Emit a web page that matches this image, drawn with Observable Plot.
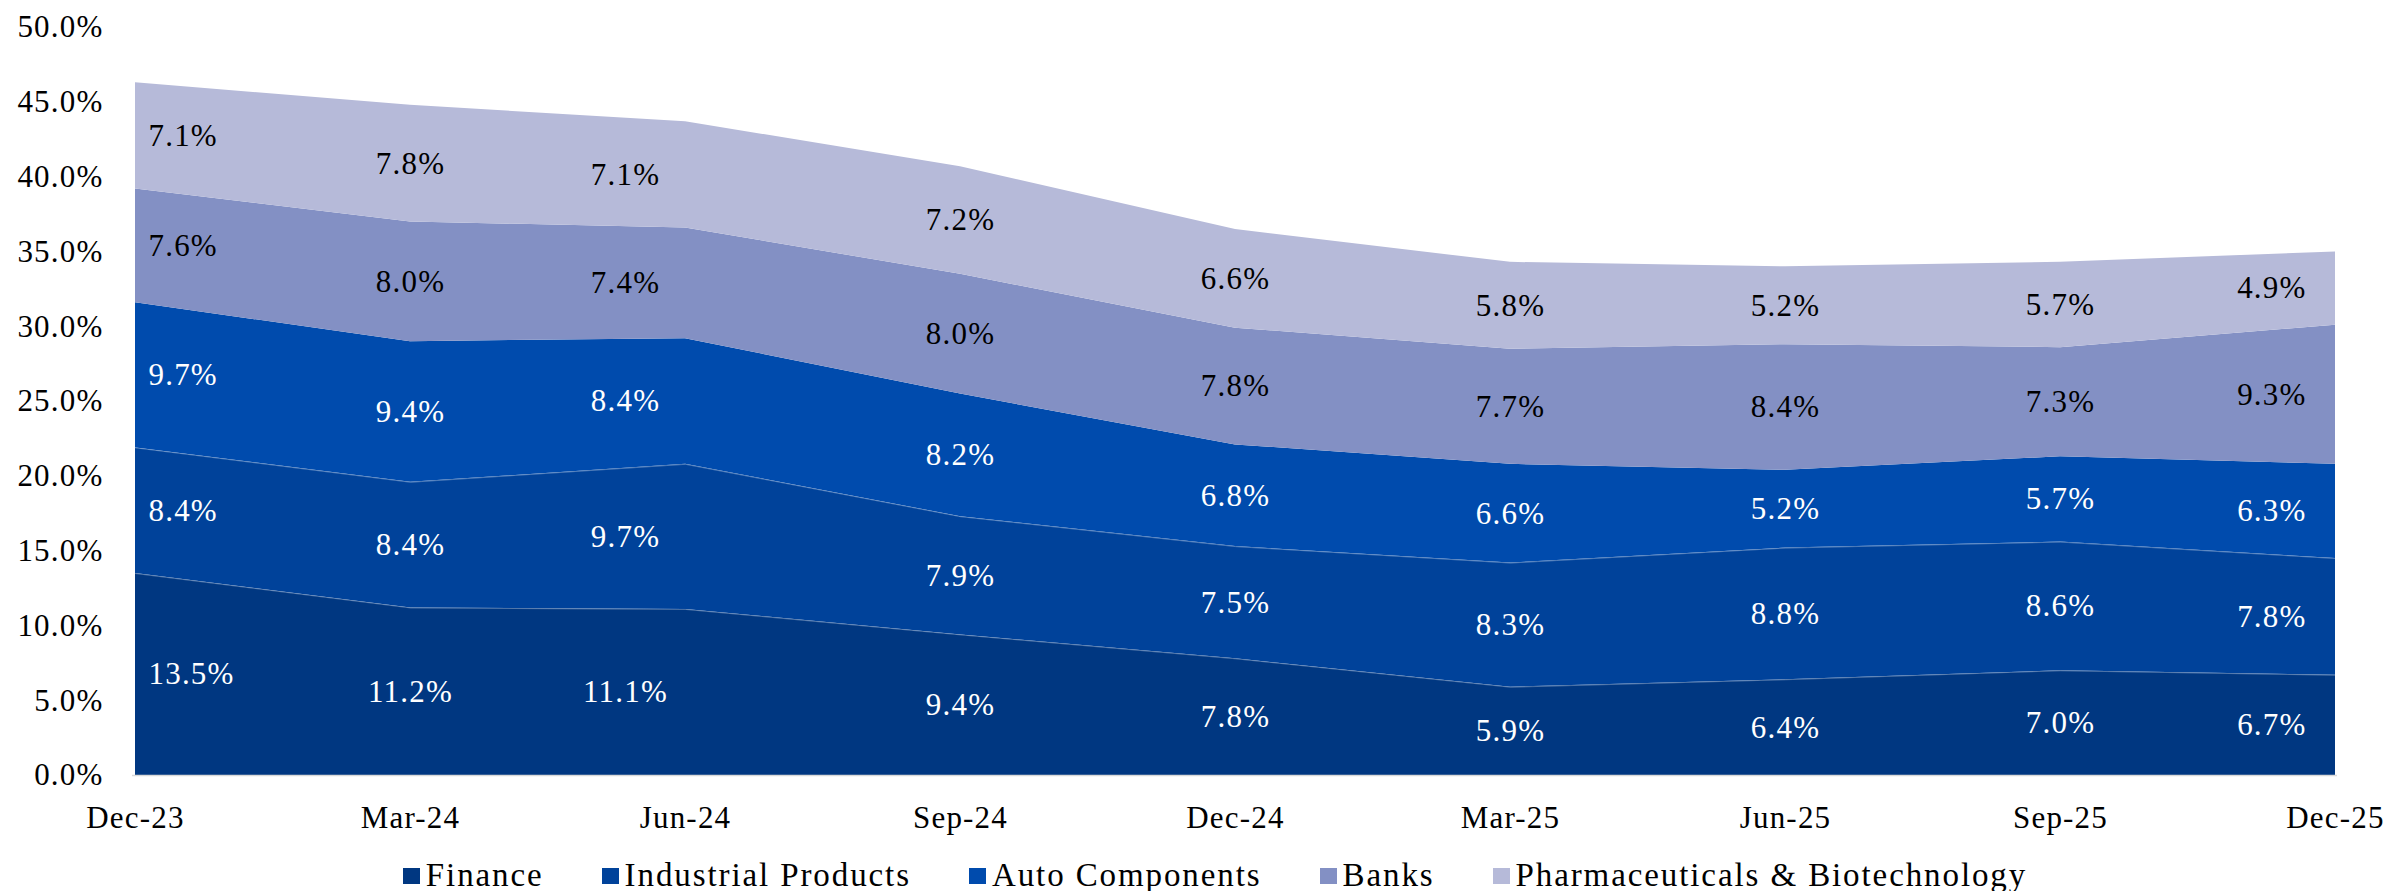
<!DOCTYPE html>
<html>
<head>
<meta charset="utf-8">
<script src="https://cdn.jsdelivr.net/npm/d3@7"></script>
<script src="https://cdn.jsdelivr.net/npm/@observablehq/plot@0.6"></script>
<style>
  html, body { margin: 0; padding: 0; background: #fff; overflow: hidden; }
  #chart svg text { letter-spacing: 1.2px; font-weight: normal; }
  #legend { display: flex; justify-content: center; align-items: center; height: 31px; padding-top: 15px; padding-left: 36px;
    font-family: "Liberation Serif", serif; font-size: 33px; letter-spacing: 1.9px; color: #000; }
  .item { display: flex; align-items: center; margin-right: 58px; line-height: 31px; }
  .item:last-child { margin-right: 0; }
  .sw { width: 17px; height: 16px; margin-right: 6px; }
</style>
</head>
<body>
<div id="chart"></div>
<div id="legend"></div>
<script>
const quarters = ["Dec-23","Mar-24","Jun-24","Sep-24","Dec-24","Mar-25","Jun-25","Sep-25","Dec-25"];
const seriesNames = ["Finance","Industrial Products","Auto Components","Banks","Pharmaceuticals & Biotechnology"];
const finance            = [13.5, 11.2, 11.1, 9.4, 7.8, 5.9, 6.4, 7.0, 6.7];
const industrialProducts = [8.4, 8.4, 9.7, 7.9, 7.5, 8.3, 8.8, 8.6, 7.8];
const autoComponents     = [9.7, 9.4, 8.4, 8.2, 6.8, 6.6, 5.2, 5.7, 6.3];
const banks              = [7.6, 8.0, 7.4, 8.0, 7.8, 7.7, 8.4, 7.3, 9.3];
const pharma             = [7.1, 7.8, 7.1, 7.2, 6.6, 5.8, 5.2, 5.7, 4.9];
const seriesColors = ["#003781", "#00429a", "#004bad", "#8390c4", "#b6bad9"];
const yTicks = [0, 5, 10, 15, 20, 25, 30, 35, 40, 45, 50];

const values = [finance, industrialProducts, autoComponents, banks, pharma];
const rows = seriesNames.flatMap((s, i) => values[i].map((v, j) => ({series: s, quarter: quarters[j], value: v})));
const darkSeries = new Set(seriesNames.slice(0, 3));
const first = quarters[0], last = quarters[quarters.length - 1], shifted = "Jun-24";
const fmt = d => d.value.toFixed(1) + "%";

function labels(test, anchor, dx, fill) {
  return Plot.text(rows, Plot.filter(test, Plot.stackY({
    x: "quarter", y: "value", z: "series", text: fmt,
    textAnchor: anchor, dx, fill, fontSize: 31
  })));
}
const groups = [
  [d => d.quarter === first, "start", 13],
  [d => d.quarter === last, "end", -29],
  [d => d.quarter === shifted, "middle", -60],
  [d => d.quarter !== first && d.quarter !== last && d.quarter !== shifted, "middle", 0]
];
const labelMarks = groups.flatMap(([t, a, dx]) => [
  labels(d => t(d) && darkSeries.has(d.series), a, dx, "white"),
  labels(d => t(d) && !darkSeries.has(d.series), a, dx, "black")
]);

const chart = Plot.plot({
  width: 2394,
  height: 845,
  marginLeft: 132,
  marginRight: 57,
  marginTop: 27,
  marginBottom: 70,
  style: {fontFamily: "Liberation Serif, serif", fontSize: "31px", color: "#000", background: "#fff"},
  x: {type: "point", domain: quarters, padding: 0},
  y: {domain: [0, 50]},
  color: {domain: seriesNames, range: seriesColors},
  marks: [
    Plot.areaY(rows, {x: "quarter", y: "value", z: "series", fill: "series"}),
    Plot.lineY(rows, Plot.filter(d => d.series === "Finance" || d.series === "Industrial Products",
      Plot.stackY2({x: "quarter", y: "value", z: "series", stroke: "white", strokeOpacity: 0.3, strokeWidth: 1}))),
    Plot.ruleY([0], {stroke: "#d9d9d9", strokeWidth: 1.5}),
    Plot.axisY({ticks: yTicks, tickFormat: d => d.toFixed(1) + "%", tickSize: 0, tickPadding: 29, label: null, fontSize: 31}),
    Plot.axisX({tickSize: 0, tickPadding: 30, label: null, fontSize: 31}),
    ...labelMarks
  ]
});
document.getElementById("chart").appendChild(chart);

const legend = document.getElementById("legend");
seriesNames.forEach((s, i) => {
  const item = document.createElement("div");
  item.className = "item";
  const sw = document.createElement("div");
  sw.className = "sw";
  sw.style.background = seriesColors[i];
  const label = document.createElement("span");
  label.textContent = s;
  item.appendChild(sw);
  item.appendChild(label);
  legend.appendChild(item);
});
</script>
</body>
</html>
